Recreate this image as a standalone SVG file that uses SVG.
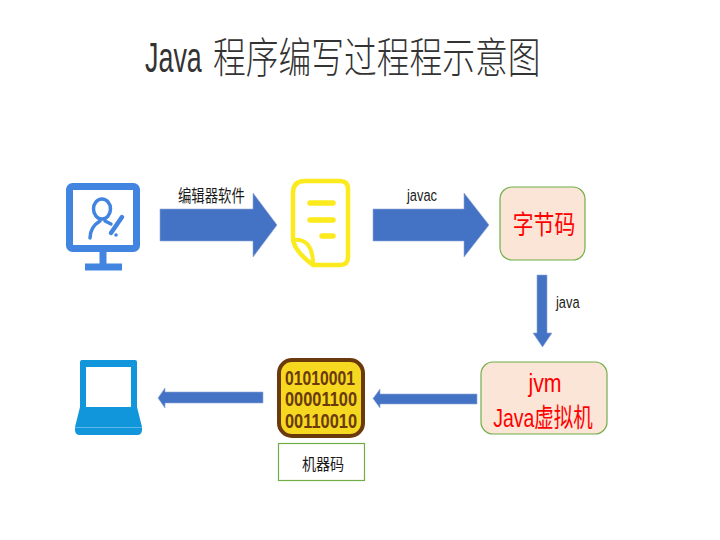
<svg xmlns="http://www.w3.org/2000/svg" width="720" height="540" viewBox="0 0 720 540">
<style>
.t{font-family:"Liberation Sans","Noto Sans CJK SC",sans-serif;fill:#1a1a1a}
.r{fill:#ff0000;text-anchor:middle}
.a{fill:#4472c4;stroke:#8fa8d6;stroke-width:.6}
.b{fill:#fbe5d6;stroke:#70ad47;stroke-width:1.2}
.m{fill:none;stroke:#4285e0;stroke-linecap:round;stroke-linejoin:round}
.y{fill:none;stroke:#fbea1e;stroke-linecap:round;stroke-linejoin:round}
.d{font-family:"Liberation Sans",sans-serif;font-weight:bold;font-size:21px;fill:#6b3a0c}
</style>
<rect width="720" height="540" fill="#fff"/>
<g id="title">
<text class="t" transform="translate(145 72) scale(.64 1)" font-size="42" style="fill:#333">Java</text>
<text class="t" transform="translate(213 73) scale(.78 1)" font-size="42" font-weight="300" style="fill:#333">程序编写过程程示意图</text>
</g>
<g id="connectors">
<polygon class="a" points="160,209 253,209 253,193 277,225 253,257 253,241 160,241"/>
<polygon class="a" points="373,209 464,209 464,193 489,225 464,257 464,241 373,241"/>
<polygon class="a" points="537,275 547,275 547,333 552,333 542.500,347 533,333 537,333"/>
<polygon class="a" points="477,394 380,394 380,389 373,398.500 380,408 380,404 477,404"/>
<polygon class="a" points="263,392 165,392 165,388 158,398 165,408 165,403 263,403"/>
<text class="t" transform="translate(178 202) scale(.81 1)" font-size="16.500">编辑器软件</text>
<text class="t" transform="translate(407 201) scale(.78 1)" font-size="16.500">javac</text>
<text class="t" transform="translate(556 308) scale(.78 1)" font-size="16.500">java</text>
</g>
<g id="monitor">
<rect class="m" x="69.500" y="186.500" width="67" height="62" rx="3" stroke-width="7"/>
<path d="M103 250V266M85 267H122" fill="none" stroke="#4285e0" stroke-width="7"/>
<ellipse class="m" cx="102" cy="209" rx="8.500" ry="10" stroke-width="3.500"/>
<path class="m" d="M90 238C90 229 95 224 100 221M105 221L111 224" stroke-width="3.500"/>
<path class="m" d="M111 233L122 217" stroke-width="4.500"/>
<circle cx="116" cy="235" r="1.800" fill="#4285e0"/>
</g>
<g id="document">
<path class="y" d="M305 181H340Q348 181 348 189V257Q348 265 340 265H313Q293 250 293 238V193Q293 181 305 181Z" stroke-width="4.500"/>
<path class="y" d="M293 240Q313 238 313 264" stroke-width="4"/>
<path class="y" d="M310 203H333M310 220H333M322 236H333" stroke-width="5.500"/>
</g>
<g id="bytecode">
<rect class="b" x="500" y="187" width="85" height="73" rx="12"/>
<text class="t r" transform="translate(544 234) scale(.8 1)" font-size="26" style="fill:#ff0000">字节码</text>
</g>
<g id="jvm">
<rect class="b" x="481" y="362" width="126" height="72" rx="12"/>
<text class="t r" transform="translate(545 392) scale(.82 1)" font-size="26" style="fill:#ff0000">jvm</text>
<text class="t r" transform="translate(543 427) scale(.75 1)" font-size="26" style="fill:#ff0000">Java虚拟机</text>
</g>
<g id="machinecode">
<rect x="279" y="360" width="84" height="76" rx="13" fill="#f5d81f" stroke="#6b3a0c" stroke-width="4"/>
<text class="d" x="285" y="385" textLength="70" lengthAdjust="spacingAndGlyphs">01010001</text>
<text class="d" x="285" y="406" textLength="72" lengthAdjust="spacingAndGlyphs">00001100</text>
<text class="d" x="285" y="428" textLength="72" lengthAdjust="spacingAndGlyphs">00110010</text>
<rect x="278.500" y="443.500" width="86" height="37" fill="#fff" stroke="#70ad47" stroke-width="1.200"/>
<text class="t" transform="translate(323 470) scale(.88 1)" font-size="16" text-anchor="middle">机器码</text>
</g>
<g id="laptop">
<path d="M82 360H135Q137 360 137 362V407L142 427V430Q142 435 137 435H80Q75 435 75 430V427L80 407V362Q80 360 82 360Z" fill="#1296db"/>
<rect x="86" y="367" width="45" height="40" fill="#fff"/>
<rect x="75" y="427" width="67" height="1" fill="#5cb8ea"/>
</g>
</svg>
